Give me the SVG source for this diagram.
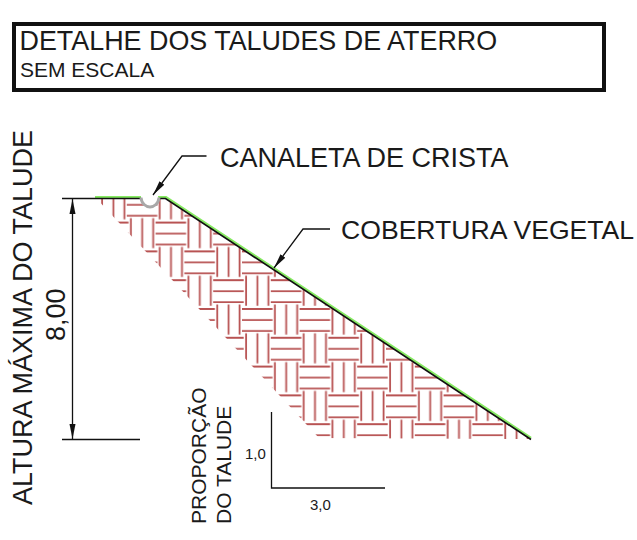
<svg xmlns="http://www.w3.org/2000/svg" width="637" height="540" viewBox="0 0 637 540">
<style>
text{font-family:"Liberation Sans",Arial,sans-serif;fill:#1a1a1a}
.h{stroke:#b85353;stroke-width:1.8;fill:none}
.k{stroke:#111;fill:none}
</style>
<defs>
<pattern id="weave" patternUnits="userSpaceOnUse" x="242" y="307" width="57.6" height="57.6">
<g class="h">
<path d="M0 2H30.5M0 13H30.5M0 24H30.5"/>
<path d="M28.8 30.8H57.6M28.8 41.8H57.6M28.8 52.8H57.6M0 30.8H1.7M0 41.8H1.7M0 52.8H1.7"/>
<path d="M4.1 26.3V56.3M15.4 26.3V56.3M26.4 26.3V56.3"/>
<path d="M32.9 55.1V57.6M44.2 55.1V57.6M55.2 55.1V57.6M32.9 0V27.5M44.2 0V27.5M55.2 0V27.5"/>
</g>
</pattern>
<marker id="a" markerUnits="userSpaceOnUse" markerWidth="16" markerHeight="7" refX="15" refY="3.500" orient="auto-start-reverse"><path d="M0 0.500L15 3.500L0 6.500Z" fill="#111"/></marker>
</defs>
<g id="title">
<rect x="14" y="24" width="590" height="66" fill="none" stroke="#111" stroke-width="4"/>
<text x="19.500" y="50" font-size="26.900">DETALHE DOS TALUDES DE ATERRO</text>
<text x="20" y="77" font-size="21">SEM ESCALA</text>
</g>
<g id="fill"><polygon points="96,198 165,198 530,439 319,438" fill="url(#weave)"/></g>
<g id="slope">
<path d="M95 197.200H141M158 197.200H166L531 438" stroke="#86ea62" stroke-width="2.600" fill="none"/>
<path class="k" stroke-width="1.700" d="M62 198.500H141M158 198.500H165.500L531 439.500"/>
<path d="M141 197.500C142 210 158 210 159 197.500" fill="#fff" stroke="#a8a8a8" stroke-width="3"/>
</g>
<g id="connectors">
<path class="k" stroke-width="1.300" d="M206.500 156H182L153 195" marker-end="url(#a)"/>
<path class="k" stroke-width="1.300" d="M330 229H303L274 268" marker-end="url(#a)"/>
<path class="k" stroke-width="1.300" d="M72.500 199V439" marker-start="url(#a)" marker-end="url(#a)"/>
<path class="k" stroke-width="1.300" d="M62 439.500H140"/>
<path class="k" stroke-width="1.300" d="M271.500 412V488H385"/>
</g>
<g id="labels">
<text x="220" y="167" font-size="27">CANALETA DE CRISTA</text>
<text x="341" y="239" font-size="26.600">COBERTURA VEGETAL</text>
<text transform="translate(32 505) rotate(-90)" font-size="27">ALTURA MÁXIMA DO TALUDE</text>
<text transform="translate(65 341) rotate(-90)" font-size="27">8,00</text>
<text transform="translate(205.500 524) rotate(-90)" font-size="21">PROPORÇÃO</text>
<text transform="translate(231 524) rotate(-90)" font-size="21">DO TALUDE</text>
<text x="245" y="459" font-size="15">1,0</text>
<text x="310" y="510" font-size="15">3,0</text>
</g>
</svg>
